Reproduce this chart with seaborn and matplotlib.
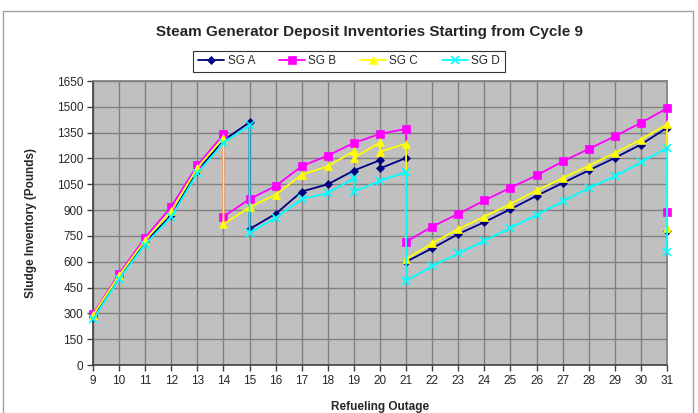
import matplotlib
matplotlib.use("Agg")
import matplotlib.pyplot as plt
import seaborn as sns
import pandas as pd
from matplotlib.patches import Rectangle

# ---- data ----
series_names = ["SG A", "SG B", "SG C", "SG D"]

a_x = [9, 10, 11, 12, 13, 14, 15, 15, 16, 17, 18, 19, 20, 20, 21, 21,
       22, 23, 24, 25, 26, 27, 28, 29, 30, 31, 31]
a_y = [280, 515, 715, 870, 1130, 1305, 1410, 790, 878, 1008, 1050, 1130, 1190, 1142, 1203, 600,
       678, 761, 830, 905, 983, 1057, 1131, 1203, 1281, 1378, 779]

b_x = [9, 10, 11, 12, 13, 14, 14, 15, 16, 17, 18, 19, 20, 21, 21,
       22, 23, 24, 25, 26, 27, 28, 29, 30, 31, 31]
b_y = [295, 530, 740, 920, 1160, 1340, 862, 964, 1040, 1155, 1217, 1290, 1343, 1372, 716,
       804, 878, 956, 1030, 1101, 1183, 1255, 1329, 1407, 1491, 890]

c_x = [9, 10, 11, 12, 13, 14, 14, 15, 16, 17, 18, 19, 19, 20, 20, 21, 21,
       22, 23, 24, 25, 26, 27, 28, 29, 30, 31, 31]
c_y = [290, 520, 725, 895, 1145, 1320, 818, 917, 990, 1105, 1155, 1242, 1203, 1293, 1240, 1285, 615,
       707, 790, 862, 936, 1014, 1086, 1158, 1232, 1310, 1398, 794]

d_x = [9, 10, 11, 12, 13, 14, 15, 15, 16, 17, 18, 19, 19, 20, 21, 21,
       22, 23, 24, 25, 26, 27, 28, 29, 30, 31, 31]
d_y = [265, 500, 700, 862, 1115, 1290, 1392, 767, 855, 964, 999, 1086, 1008, 1070, 1121, 489,
       574, 648, 722, 797, 872, 950, 1028, 1096, 1177, 1262, 658]

x_ticks = list(range(9, 32))
y_ticks = list(range(0, 1651, 150))

title = "Steam Generator Deposit Inventories Starting from Cycle 9"
x_label = "Refueling Outage"
y_label = "Sludge Inventory (Pounds)"

# ---- styling ----
colors = {"SG A": "#000080", "SG B": "#FF00FF", "SG C": "#FFFF00", "SG D": "#00FFFF"}
markers = {"SG A": "D", "SG B": "s", "SG C": "^", "SG D": "x"}
msizes = {"SG A": 4, "SG B": 6, "SG C": 6, "SG D": 6}

sns.set_theme(style="white")
plt.rcParams['font.family'] = ['Liberation Sans', 'DejaVu Sans']

fig = plt.figure(figsize=(6.98, 4.13), dpi=100)
ax = fig.add_axes([93/698, 1-365/413, (667-93)/698, (365-81)/413])
ax.set_facecolor("#C0C0C0")

# outer chart frame
fig.patches.append(Rectangle((3/698, -0.05), (693-3)/698, 1.05-11/413,
                             transform=fig.transFigure, fill=False,
                             edgecolor="#A0A0A0", linewidth=1.0, zorder=0))

data = [(a_x, a_y), (b_x, b_y), (c_x, c_y), (d_x, d_y)]
for name, (xs, ys) in zip(series_names, data):
    df = pd.DataFrame({"x": xs, "y": ys})
    sns.lineplot(data=df, x="x", y="y", sort=False, estimator=None, ax=ax,
                 color=colors[name], marker=markers[name], markersize=msizes[name],
                 markeredgecolor=colors[name], markeredgewidth=1.2 if name == "SG D" else 0.5,
                 linewidth=1.3, label=name, zorder=3, clip_on=False)

ax.set_xlim(9, 31)
ax.set_ylim(0, 1650)
ax.set_xticks(x_ticks)
ax.set_yticks(y_ticks)
ax.set_xticklabels([str(t) for t in x_ticks], fontsize=8.5)
ax.set_yticklabels([str(t) for t in y_ticks], fontsize=8.5)
ax.grid(True, color="#808080", linewidth=1.0)
ax.set_axisbelow(True)
ax.tick_params(axis="both", direction="out", length=4, width=1, color="#404040", pad=3,
               bottom=True, left=True)
for s in ["top", "right"]:
    ax.spines[s].set_color("#808080")
for s in ["left", "bottom"]:
    ax.spines[s].set_color("#404040")
    ax.spines[s].set_linewidth(1.2)

ax.set_xlabel(x_label, fontsize=8.5, fontweight="bold", labelpad=10)
ax.set_ylabel(y_label, fontsize=8.5, fontweight="bold", labelpad=14)
fig.text(0.53, 1-32/413, title, ha="center", va="center", fontsize=11, fontweight="bold")

leg = ax.legend(loc="center", bbox_to_anchor=(349/698, 1-61.5/413), bbox_transform=fig.transFigure,
                ncol=4, frameon=True, fancybox=False, fontsize=8.5, handlelength=2.2,
                columnspacing=2.0, borderpad=0.4, handletextpad=0.3)
leg.get_frame().set_edgecolor("#000000")
leg.get_frame().set_linewidth(0.8)

fig.savefig("out.png", dpi=100)
